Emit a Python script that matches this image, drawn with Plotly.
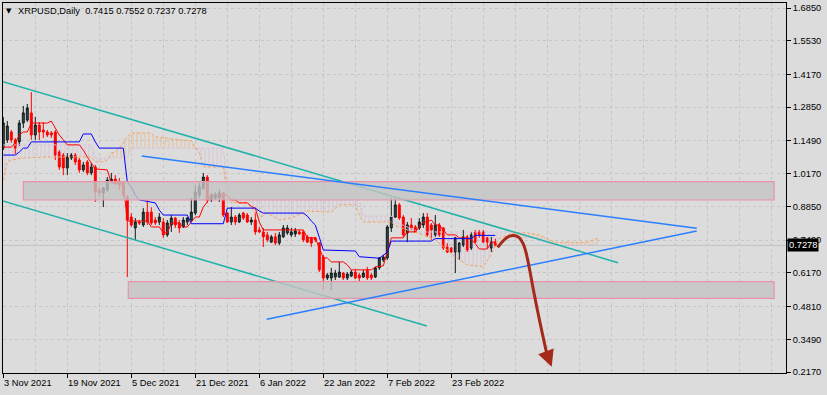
import plotly.graph_objects as go

# ---------------- data ----------------
symbol = "XRPUSD,Daily"
bar_index = list(range(124))

opens = [1.120, 1.153, 1.185, 1.153, 1.145, 1.221, 1.233, 1.262, 1.173, 1.213,
         1.193, 1.185, 1.181, 1.185, 1.104, 1.092, 1.040, 1.080, 1.092, 1.072,
         1.032, 1.064, 1.020, 1.044, 0.951, 0.939, 0.951, 0.987, 0.995, 0.983,
         0.979, 0.923, 0.842, 0.798, 0.822, 0.810, 0.862, 0.862, 0.830, 0.822,
         0.822, 0.770, 0.810, 0.838, 0.818, 0.802, 0.822, 0.830, 0.858, 0.931,
         0.959, 1.003, 0.911, 0.919, 0.919, 0.939, 0.858, 0.822, 0.842, 0.822,
         0.858, 0.850, 0.822, 0.830, 0.790, 0.782, 0.770, 0.741, 0.762, 0.737,
         0.762, 0.778, 0.770, 0.774, 0.782, 0.782, 0.762, 0.758, 0.758, 0.737,
         0.681, 0.596, 0.596, 0.600, 0.600, 0.616, 0.596, 0.604, 0.620, 0.608,
         0.600, 0.629, 0.608, 0.600, 0.637, 0.669, 0.677, 0.798, 0.842, 0.891,
         0.842, 0.778, 0.810, 0.802, 0.798, 0.810, 0.842, 0.810, 0.770, 0.810,
         0.798, 0.721, 0.717, 0.701, 0.701, 0.729, 0.762, 0.717, 0.782, 0.782,
         0.782, 0.758, 0.717, 0.7415]
highs = [1.245, 1.229, 1.193, 1.161, 1.233, 1.290, 1.298, 1.346, 1.246, 1.225,
         1.225, 1.193, 1.189, 1.193, 1.112, 1.100, 1.100, 1.100, 1.100, 1.080,
         1.064, 1.072, 1.060, 1.052, 0.963, 0.963, 1.003, 1.020, 1.011, 0.999,
         0.983, 0.931, 0.858, 0.838, 0.830, 0.878, 0.911, 0.882, 0.842, 0.858,
         0.838, 0.830, 0.850, 0.842, 0.830, 0.842, 0.842, 0.919, 0.971, 0.979,
         1.020, 1.011, 0.939, 0.943, 0.955, 0.943, 0.862, 0.882, 0.850, 0.858,
         0.862, 0.858, 0.842, 0.862, 0.802, 0.798, 0.782, 0.770, 0.778, 0.782,
         0.810, 0.810, 0.798, 0.798, 0.790, 0.790, 0.770, 0.762, 0.762, 0.741,
         0.689, 0.616, 0.637, 0.629, 0.661, 0.620, 0.620, 0.629, 0.629, 0.616,
         0.629, 0.641, 0.616, 0.641, 0.681, 0.689, 0.810, 0.919, 0.919, 0.899,
         0.850, 0.822, 0.838, 0.810, 0.838, 0.858, 0.858, 0.818, 0.850, 0.818,
         0.802, 0.737, 0.721, 0.762, 0.741, 0.790, 0.770, 0.782, 0.790, 0.790,
         0.790, 0.762, 0.762, 0.7552]
lows = [1.112, 1.141, 1.141, 1.096, 1.128, 1.201, 1.225, 1.153, 1.153, 1.153,
        1.161, 1.165, 1.161, 1.072, 1.032, 1.011, 1.011, 1.072, 1.052, 1.020,
        1.024, 1.011, 1.011, 0.903, 0.923, 0.882, 0.943, 0.983, 0.971, 0.951,
        0.919, 0.600, 0.802, 0.750, 0.810, 0.802, 0.810, 0.810, 0.810, 0.810,
        0.758, 0.762, 0.782, 0.798, 0.778, 0.798, 0.810, 0.822, 0.850, 0.919,
        0.951, 0.899, 0.903, 0.911, 0.903, 0.842, 0.818, 0.810, 0.810, 0.818,
        0.830, 0.818, 0.810, 0.770, 0.778, 0.721, 0.741, 0.737, 0.729, 0.729,
        0.758, 0.770, 0.762, 0.762, 0.770, 0.741, 0.737, 0.721, 0.741, 0.620,
        0.548, 0.588, 0.548, 0.588, 0.596, 0.588, 0.588, 0.600, 0.592, 0.580,
        0.596, 0.588, 0.588, 0.596, 0.629, 0.661, 0.669, 0.782, 0.838, 0.830,
        0.762, 0.741, 0.790, 0.778, 0.790, 0.798, 0.762, 0.750, 0.762, 0.762,
        0.709, 0.697, 0.697, 0.616, 0.669, 0.721, 0.701, 0.709, 0.737, 0.758,
        0.737, 0.717, 0.701, 0.7237]
closes = [1.221, 1.209, 1.153, 1.120, 1.221, 1.262, 1.282, 1.173, 1.213, 1.185,
          1.185, 1.173, 1.173, 1.092, 1.044, 1.040, 1.084, 1.092, 1.064, 1.032,
          1.052, 1.020, 1.044, 0.943, 0.939, 0.959, 0.991, 0.995, 0.979, 0.971,
          0.931, 0.830, 0.810, 0.822, 0.818, 0.862, 0.822, 0.818, 0.818, 0.842,
          0.770, 0.818, 0.838, 0.810, 0.798, 0.830, 0.838, 0.862, 0.943, 0.963,
          1.003, 0.911, 0.931, 0.931, 0.939, 0.850, 0.822, 0.842, 0.822, 0.850,
          0.838, 0.822, 0.830, 0.782, 0.782, 0.762, 0.750, 0.762, 0.737, 0.770,
          0.798, 0.798, 0.782, 0.786, 0.774, 0.750, 0.741, 0.737, 0.750, 0.629,
          0.596, 0.608, 0.616, 0.616, 0.620, 0.596, 0.612, 0.620, 0.596, 0.596,
          0.616, 0.596, 0.596, 0.637, 0.677, 0.681, 0.802, 0.842, 0.891, 0.838,
          0.770, 0.810, 0.798, 0.782, 0.822, 0.842, 0.770, 0.790, 0.810, 0.770,
          0.717, 0.701, 0.701, 0.758, 0.737, 0.762, 0.709, 0.770, 0.741, 0.770,
          0.741, 0.741, 0.7415, 0.7278]

date_label_bars = [0, 16, 32, 48, 64, 80, 96, 112]
date_labels = ["3 Nov 2021", "19 Nov 2021", "5 Dec 2021", "21 Dec 2021",
               "6 Jan 2022", "22 Jan 2022", "7 Feb 2022", "23 Feb 2022"]

price_ticks = [0.2170, 0.3490, 0.4810, 0.6170, 0.7490, 0.8850,
               1.0170, 1.1490, 1.2850, 1.4170, 1.5530, 1.6850]

# Tenkan-sen (red) and Kijun-sen (blue) breakpoints
tenkan_x = [0, 2, 3, 4, 5, 6, 7, 11, 12, 13, 14, 15, 16, 19, 20, 21, 22, 23, 26, 27,
            30, 31, 36, 37, 39, 40, 41, 42, 44, 45, 46, 47, 48, 49, 50, 51, 52, 56, 57, 58,
            59, 61, 62, 63, 64, 65, 75, 76, 78, 79, 80, 81, 82, 85, 86, 87, 92, 93, 95, 96,
            97, 100, 101, 103, 104, 105, 106, 107, 108, 109, 110, 111, 113, 114, 116, 117,
            118, 119, 121, 122, 123]
tenkan_y = [1.124, 1.124, 1.141, 1.173, 1.185, 1.185, 1.221, 1.221, 1.229, 1.201,
            1.173, 1.153, 1.133, 1.133, 1.112, 1.084, 1.060, 1.036, 1.032, 0.979,
            0.979, 0.826, 0.826, 0.802, 0.802, 0.778, 0.778, 0.818, 0.818, 0.802,
            0.802, 0.822, 0.842, 0.842, 0.882, 0.903, 0.931, 0.931, 0.911, 0.911,
            0.899, 0.899, 0.885, 0.878, 0.822, 0.790, 0.790, 0.758, 0.758, 0.717,
            0.677, 0.677, 0.661, 0.661, 0.649, 0.629, 0.629, 0.641, 0.645, 0.700,
            0.758, 0.758, 0.782, 0.782, 0.802, 0.822, 0.822, 0.830, 0.810, 0.810,
            0.790, 0.770, 0.770, 0.758, 0.758, 0.750, 0.735, 0.713, 0.713, 0.741,
            0.741]
kijun_x = [0, 3, 4, 5, 6, 7, 19, 20, 22, 23, 24, 30, 31, 32, 33, 34, 38, 39, 40, 46,
           47, 55, 56, 63, 64, 65, 75, 76, 77, 78, 79, 80, 88, 89, 94, 95, 96, 97, 107,
           108, 117, 118, 123]
kijun_y = [1.092, 1.092, 1.104, 1.120, 1.120, 1.145, 1.145, 1.177, 1.177, 1.145,
           1.120, 1.120, 0.983, 0.963, 0.930, 0.911, 0.899, 0.870, 0.850, 0.850,
           0.815, 0.815, 0.878, 0.878, 0.866, 0.858, 0.858, 0.846, 0.826, 0.810,
           0.760, 0.709, 0.705, 0.682, 0.676, 0.689, 0.700, 0.745, 0.745, 0.755,
           0.755, 0.768, 0.768]

# Senkou span A (orange) and span B (thistle), shifted 26 bars ahead
cloud_x = [0, 1, 2, 5, 11, 22, 23, 25, 26, 27, 28, 29, 30, 31, 32, 37, 38, 41, 44, 47,
           48, 49, 50, 55, 56, 57, 61, 62, 64, 66, 69, 72, 76, 82, 84, 88, 89, 90, 97, 98,
           104, 108, 113, 116, 120, 122, 123, 124, 127, 128, 131, 134, 138, 146, 149]
span_a = [0.990, 1.064, 1.072, 1.080, 1.084, 1.084, 1.064, 1.064, 1.072, 1.100,
          1.104, 1.124, 1.140, 1.165, 1.181, 1.181, 1.165, 1.160, 1.153, 1.150,
          1.124, 1.100, 1.044, 1.044, 0.930, 0.900, 0.900, 0.882, 0.838, 0.858,
          0.830, 0.838, 0.866, 0.862, 0.891, 0.891, 0.850, 0.822, 0.822, 0.806,
          0.775, 0.750, 0.680, 0.649, 0.641, 0.690, 0.729, 0.755, 0.775, 0.778,
          0.778, 0.770, 0.740, 0.740, 0.760]
span_b = [1.133, 1.133, 1.133, 1.133, 1.133, 1.133, 1.080, 1.080, 1.080, 1.080,
          1.080, 1.080, 1.080, 1.080, 1.120, 1.120, 1.120, 1.120, 1.120, 1.120,
          1.120, 1.120, 1.120, 1.120, 0.971, 0.971, 0.971, 0.971, 0.971, 0.971,
          0.971, 0.971, 0.971, 0.971, 0.971, 0.971, 0.911, 0.846, 0.846, 0.822,
          0.782, 0.782, 0.782, 0.782, 0.782, 0.782, 0.782, 0.782, 0.782, 0.755,
          0.760, 0.755, 0.728, 0.728, 0.735]
cloud_up_ranges = [(27, 48), (127, 149)]     # span A above span B
cloud_down_ranges = [(0, 27), (48, 127)]     # span B above span A

# hand-drawn objects (bar index, price)
teal_upper = [(-2, 1.397), (153.7, 0.658)]
teal_lower = [(-2, 0.916), (105.9, 0.4025)]
blue_upper = [(34.6, 1.088), (173.35, 0.7966)]
blue_lower = [(65.85, 0.4296), (173.35, 0.7857)]
zone_upper = [(5.0, 0.9107), (192.7, 0.9845)]
zone_lower = [(31.25, 0.5142), (192.7, 0.5812)]
arrow_x = [123.6, 125.4, 127.5, 129.2, 130.7, 132.5, 134.2, 135.85]
arrow_y = [0.720, 0.758, 0.770, 0.760, 0.709, 0.548, 0.413, 0.292]
arrow_tip = (137.1, 0.238)

# ---------------- figure ----------------
BG = "#dcdcdc"
GRID = "#c6c6c6"
FONT = "Liberation Sans"
fig = go.Figure()

# cloud hatch
def cloud_segment(lo, hi, color, opacity):
    idx = [k for k, x in enumerate(cloud_x) if lo <= x <= hi]
    xs = [cloud_x[k] for k in idx]
    fig.add_trace(go.Scatter(x=xs, y=[span_b[k] for k in idx], mode="lines",
                             line=dict(width=0), hoverinfo="skip", showlegend=False))
    fig.add_trace(go.Scatter(x=xs, y=[span_a[k] for k in idx], mode="lines",
                             line=dict(width=0), hoverinfo="skip", showlegend=False,
                             fill="tonexty", fillcolor="rgba(0,0,0,0)",
                             fillpattern=dict(shape="|", fgcolor=color, bgcolor="rgba(0,0,0,0)",
                                              size=4, solidity=0.25, fgopacity=opacity)))

for lo, hi in cloud_down_ranges:
    cloud_segment(lo, hi, "#d8bfd8", 0.85)
for lo, hi in cloud_up_ranges:
    cloud_segment(lo, hi, "#f4a460", 0.55)

fig.add_trace(go.Scatter(x=cloud_x, y=span_b, mode="lines", hoverinfo="skip", showlegend=False,
                         line=dict(color="#d8bfd8", width=1, dash="3px,2px")))
fig.add_trace(go.Scatter(x=cloud_x, y=span_a, mode="lines", hoverinfo="skip", showlegend=False,
                         line=dict(color="#f4a460", width=1, dash="3px,2px")))

fig.add_trace(go.Candlestick(
    x=bar_index, open=opens, high=highs, low=lows, close=closes,
    increasing=dict(line=dict(color="#101818", width=1), fillcolor="#2f4f4f"),
    decreasing=dict(line=dict(color="#ff0000", width=1), fillcolor="#ff0000"),
    whiskerwidth=0, hoverinfo="skip", showlegend=False))

fig.add_trace(go.Scatter(x=tenkan_x, y=tenkan_y, mode="lines", hoverinfo="skip", showlegend=False,
                         line=dict(color="#ff0000", width=1)))
fig.add_trace(go.Scatter(x=kijun_x, y=kijun_y, mode="lines", hoverinfo="skip", showlegend=False,
                         line=dict(color="#0000ff", width=1)))

shapes = []
# current price line
shapes.append(dict(type="line", xref="paper", x0=0, x1=1, yref="y", y0=closes[-1], y1=closes[-1],
                   line=dict(color="#c0c0c0", width=1), layer="between"))
for (p0, p1) in [teal_upper, teal_lower]:
    shapes.append(dict(type="line", xref="x", yref="y", x0=p0[0], y0=p0[1], x1=p1[0], y1=p1[1],
                       line=dict(color="#20b2aa", width=1.5), layer="above"))
for (p0, p1) in [zone_upper, zone_lower]:
    shapes.append(dict(type="rect", xref="x", yref="y", x0=p0[0], y0=p0[1], x1=p1[0], y1=p1[1],
                       fillcolor="rgba(196,196,196,0.8)",
                       line=dict(color="#e892a8", width=1.2), layer="above"))
for (p0, p1) in [blue_upper, blue_lower]:
    shapes.append(dict(type="line", xref="x", yref="y", x0=p0[0], y0=p0[1], x1=p1[0], y1=p1[1],
                       line=dict(color="#2a7fff", width=1.5), layer="above"))

# forecast curve (smoothed path through the arrow points)
pts = list(zip(arrow_x, arrow_y))
path = "M %g,%g" % pts[0]
for k in range(1, len(pts) - 1):
    mx = (pts[k][0] + pts[k + 1][0]) / 2
    my = (pts[k][1] + pts[k + 1][1]) / 2
    path += " Q %g,%g %g,%g" % (pts[k][0], pts[k][1], mx, my)
path += " L %g,%g" % pts[-1]
shapes.append(dict(type="path", xref="x", yref="y", path=path,
                   line=dict(color="#a52a1a", width=3), layer="above"))

annotations = []
annotations.append(dict(x=arrow_tip[0], y=arrow_tip[1], xref="x", yref="y",
                        ax=arrow_x[-1], ay=arrow_y[-1], axref="x", ayref="y",
                        showarrow=True, arrowhead=2, arrowsize=1.1, arrowwidth=3,
                        arrowcolor="#a52a1a", text="", standoff=0))
for b, lab in zip(date_label_bars, date_labels):
    annotations.append(dict(x=b, y=0, xref="x", yref="paper", text=lab, showarrow=False,
                            xanchor="left", yanchor="top", yshift=-4, borderpad=0,
                            font=dict(family=FONT, size=9.3, color="black")))
annotations.append(dict(x=0, y=1, xref="paper", yref="paper", text="\u25bc", showarrow=False,
                        xanchor="left", yanchor="middle", xshift=2, yshift=-8, borderpad=0,
                        font=dict(family="DejaVu Sans", size=7, color="black")))
annotations.append(dict(x=0, y=1, xref="paper", yref="paper",
                        text="%s\u00a0\u00a0%.4f %.4f %.4f %.4f" % (symbol, opens[-1], highs[-1], lows[-1], closes[-1]),
                        showarrow=False, xanchor="left", yanchor="middle", xshift=14, yshift=-8,
                        borderpad=0, font=dict(family=FONT, size=9.3, color="black")))
annotations.append(dict(x=1, y=closes[-1], xref="paper", yref="y", text="%.4f" % closes[-1],
                        showarrow=False, xanchor="left", yanchor="middle", xshift=1,
                        bgcolor="black", borderpad=1,
                        font=dict(family=FONT, size=9.3, color="white")))

minor_grid = [v for v in range(0, 196, 8) if v not in date_label_bars]

fig.update_layout(
    width=827, height=395,
    margin=dict(l=3, r=41, t=3, b=22),
    paper_bgcolor=BG, plot_bgcolor=BG,
    showlegend=False,
    shapes=shapes, annotations=annotations,
    font=dict(family=FONT, size=9.3, color="black"),
    xaxis=dict(range=[-0.075, 195.675], rangeslider=dict(visible=False),
               tickvals=date_label_bars, showticklabels=False,
               ticks="outside", ticklen=4, tickcolor="black",
               showgrid=True, gridcolor=GRID, griddash="3px,3px", gridwidth=1,
               minor=dict(tickvals=minor_grid, showgrid=True, gridcolor=GRID,
                          griddash="3px,3px", ticks=""),
               showline=True, linecolor="black", linewidth=1, mirror=True,
               zeroline=False, fixedrange=True),
    yaxis=dict(range=[0.2130, 1.7052], side="right",
               tickvals=price_ticks, ticktext=["%.4f" % v for v in price_ticks],
               ticks="outside", ticklen=4, tickcolor="black",
               tickfont=dict(family=FONT, size=9.3, color="black"),
               showgrid=True, gridcolor=GRID, griddash="3px,3px", gridwidth=1,
               showline=True, linecolor="black", linewidth=1, mirror=True,
               zeroline=False, fixedrange=True),
)

fig.write_html("out.html", config={"displayModeBar": False},
               post_script="document.body.style.margin='0px';document.body.style.background='%s';" % BG)
